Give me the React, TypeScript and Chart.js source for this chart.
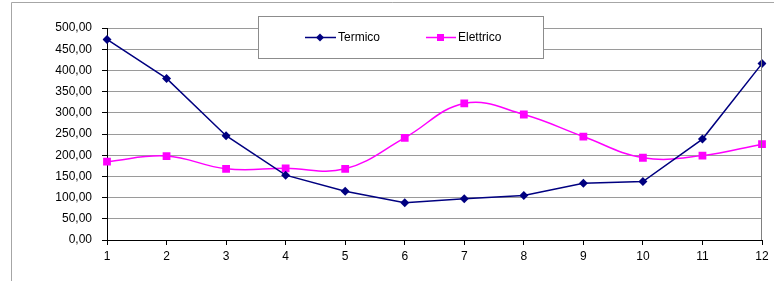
import React, { useEffect, useRef } from "react";
import { Chart, registerables } from "chart.js";

Chart.register(...registerables);

const categories = ["1", "2", "3", "4", "5", "6", "7", "8", "9", "10", "11", "12"];
const termico = [473, 381, 246, 153, 115, 88, 97, 105, 134, 138, 238, 416];
const elettrico = [185, 198, 168, 169, 168, 241, 322, 296, 244, 194, 199, 226];
const seriesNames = ["Termico", "Elettrico"];
const yMin = 0;
const yMax = 500;
const yStep = 50;

const NAVY = "#000080";
const MAGENTA = "#ff00ff";
const FONT = "Arial, 'Liberation Sans', sans-serif";

const framePlugin = {
  id: "frameAndLegend",
  beforeDraw(chart: any) {
    const ctx = chart.ctx;
    ctx.save();
    ctx.fillStyle = "#ffffff";
    ctx.fillRect(0, 0, chart.width, chart.height);
    ctx.strokeStyle = "#a6a6a6";
    ctx.lineWidth = 1;
    ctx.beginPath();
    ctx.moveTo(11.5, chart.height);
    ctx.lineTo(11.5, 2.5);
    ctx.lineTo(chart.width, 2.5);
    ctx.stroke();
    ctx.restore();
  },
  afterDraw(chart: any) {
    const ctx = chart.ctx;
    const a = chart.chartArea;
    ctx.save();
    ctx.strokeStyle = "#808080";
    ctx.lineWidth = 1;
    ctx.beginPath();
    ctx.moveTo(Math.round(a.right) - 0.5, a.bottom);
    ctx.lineTo(Math.round(a.right) - 0.5, a.top);
    ctx.stroke();

    // legend box
    const bx = 258.5, by = 16.5, bw = 285, bh = 42;
    ctx.fillStyle = "#ffffff";
    ctx.fillRect(bx, by, bw, bh);
    ctx.strokeStyle = "#8c8c8c";
    ctx.strokeRect(bx, by, bw, bh);

    const yc = 37.5;
    ctx.font = `12px ${FONT}`;
    ctx.textBaseline = "middle";
    ctx.textAlign = "left";

    // Termico
    ctx.strokeStyle = NAVY;
    ctx.lineWidth = 1.5;
    ctx.beginPath();
    ctx.moveTo(305, yc);
    ctx.lineTo(336, yc);
    ctx.stroke();
    ctx.fillStyle = NAVY;
    ctx.beginPath();
    ctx.moveTo(320, yc - 4);
    ctx.lineTo(324, yc);
    ctx.lineTo(320, yc + 4);
    ctx.lineTo(316, yc);
    ctx.closePath();
    ctx.fill();
    ctx.fillStyle = "#000000";
    ctx.fillText(seriesNames[0], 338, yc);

    // Elettrico
    ctx.strokeStyle = MAGENTA;
    ctx.beginPath();
    ctx.moveTo(426, yc);
    ctx.lineTo(456, yc);
    ctx.stroke();
    ctx.fillStyle = MAGENTA;
    ctx.fillRect(437, yc - 3.5, 7, 7);
    ctx.fillStyle = "#000000";
    ctx.fillText(seriesNames[1], 458, yc);
    ctx.restore();
  },
};

export default function App() {
  const ref = useRef<HTMLCanvasElement>(null);
  useEffect(() => {
    if (!ref.current) return;
    const chart = new Chart(ref.current, {
      type: "line",
      data: {
        labels: categories,
        datasets: [
          {
            label: seriesNames[0],
            data: termico,
            borderColor: NAVY,
            backgroundColor: NAVY,
            borderWidth: 1.5,
            pointStyle: "rectRot",
            pointRadius: 4.5,
            pointBorderWidth: 0,
            tension: 0,
          },
          {
            label: seriesNames[1],
            data: elettrico,
            borderColor: MAGENTA,
            backgroundColor: MAGENTA,
            borderWidth: 1.5,
            pointStyle: "rect",
            pointRadius: 5.5,
            pointBorderWidth: 0,
            tension: 0.4,
            cubicInterpolationMode: "default",
          },
        ],
      },
      options: {
        animation: false,
        responsive: false,
        devicePixelRatio: 1,
        layout: { padding: { left: 0, right: 12, top: 28, bottom: 0 } },
        plugins: {
          legend: { display: false },
          tooltip: { enabled: false },
        },
        scales: {
          x: {
            type: "category",
            offset: false,
            afterFit: (s: any) => {
              s.height = 41;
            },
            grid: {
              display: true,
              drawOnChartArea: false,
              drawTicks: true,
              tickLength: 5,
              tickColor: "#000000",
              offset: false,
            },
            border: { display: true, color: "#000000", width: 1 },
            ticks: {
              color: "#000000",
              font: { family: FONT, size: 12 },
              padding: 4,
              maxRotation: 0,
              autoSkip: false,
            },
          },
          y: {
            min: yMin,
            max: yMax,
            afterFit: (s: any) => {
              s.width = 107;
            },
            grid: {
              color: "#9a9a9a",
              lineWidth: 1,
              tickLength: 5,
              tickColor: "#000000",
            },
            border: { display: true, color: "#000000", width: 1 },
            ticks: {
              stepSize: yStep,
              color: "#000000",
              font: { family: FONT, size: 12 },
              padding: 10,
              callback: (v: any) => Number(v).toFixed(2).replace(".", ","),
            },
          },
        },
      },
      plugins: [framePlugin],
    });
    return () => chart.destroy();
  }, []);
  return (
    <canvas
      ref={ref}
      width={774}
      height={281}
      style={{ position: "fixed", left: 0, top: 0, width: 774, height: 281 }}
    />
  );
}
